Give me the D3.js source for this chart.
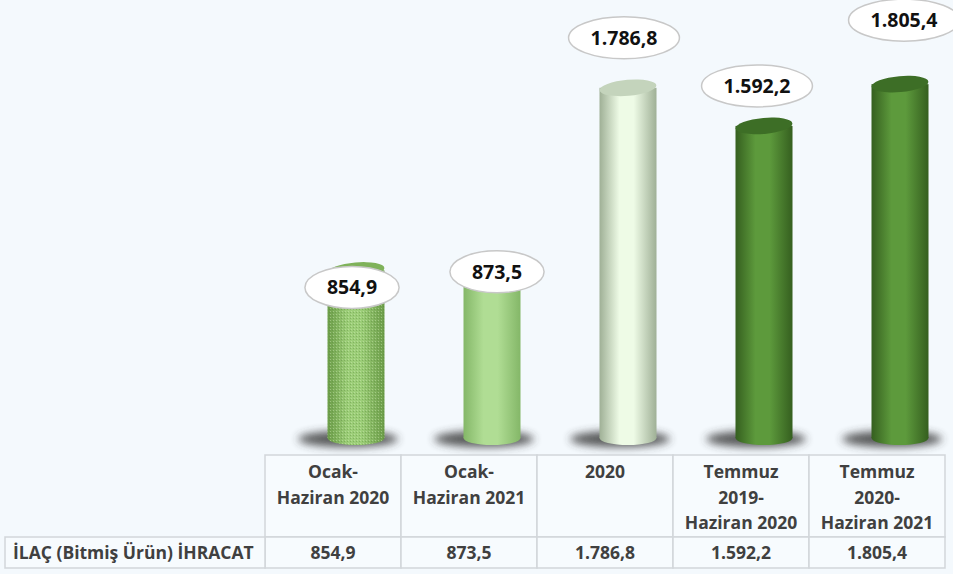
<!DOCTYPE html>
<html>
<head>
<meta charset="utf-8">
<script src="https://cdn.jsdelivr.net/npm/d3@7"></script>
<style>
  html, body { margin: 0; padding: 0; background: #f4f9fd; }
  svg { display: block; }
</style>
</head>
<body>
<svg id="chart" width="953" height="574"></svg>
<script>
// data
var categories = [
  ["Ocak-", "Haziran 2020"],
  ["Ocak-", "Haziran 2021"],
  ["2020"],
  ["Temmuz", "2019-", "Haziran 2020"],
  ["Temmuz", "2020-", "Haziran 2021"]
];
var values = [854.9, 873.5, 1786.8, 1592.2, 1805.4];
var valueLabels = ["854,9", "873,5", "1.786,8", "1.592,2", "1.805,4"];
var rowLabel = "İLAÇ (Bitmiş Ürün) İHRACAT";

// bar styles: edge / center / top colours
var barStyles = [
  { edge: "#6b9c48", mid: "#9cce78", top: "#7fb25a", tex: true },
  { edge: "#84b768", mid: "#b0dd94", top: "#94c878", tex: false },
  { edge: "#9fb096", mid: "#eefbe6", top: "#c4d4bc", tex: false },
  { edge: "#355f1f", mid: "#5d9a3c", top: "#3d6e26", tex: false },
  { edge: "#355f1f", mid: "#5d9a3c", top: "#3d6e26", tex: false }
];
// label bubble offset from bar top (dx, dy)
var labelOffsets = [[-4, 17], [5, 5], [-4, -50], [-7, -40], [4, -64]];

var svg = d3.select("#chart");
var defs = svg.append("defs");

var tableLeft = 265, colW = 136, headTop = 455, headBot = 537, rowBot = 568;
var x = d3.scaleBand()
    .domain(d3.range(values.length))
    .range([tableLeft, tableLeft + colW * values.length])
    .padding(0);
var y = d3.scaleLinear().domain([0, 2000]).range([438, 46]);

var barW = 57, ry = 7, shift = 23;

barStyles.forEach(function (s, i) {
  var g = defs.append("linearGradient").attr("id", "grad" + i)
      .attr("x1", "0%").attr("x2", "100%").attr("y1", "0%").attr("y2", "0%");
  g.append("stop").attr("offset", "0%").attr("stop-color", s.edge);
  g.append("stop").attr("offset", "35%").attr("stop-color", s.mid);
  g.append("stop").attr("offset", "60%").attr("stop-color", s.mid);
  g.append("stop").attr("offset", "100%").attr("stop-color", s.edge);
});

var pat = defs.append("pattern").attr("id", "tex")
    .attr("width", 3).attr("height", 3).attr("patternUnits", "userSpaceOnUse");
pat.append("rect").attr("width", 1).attr("height", 1).attr("fill", "#4f7d33").attr("opacity", 0.35);
pat.append("rect").attr("x", 1).attr("y", 2).attr("width", 1).attr("height", 1).attr("fill", "#d8f0c0").attr("opacity", 0.4);

defs.append("filter").attr("id", "blur").attr("x", "-50%").attr("y", "-100%")
    .attr("width", "200%").attr("height", "300%")
  .append("feGaussianBlur").attr("stdDeviation", 4);

// shadows
svg.append("g").selectAll("ellipse").data(values).enter().append("ellipse")
    .attr("cx", function (d, i) { return x(i) + x.bandwidth() / 2 + shift - 8; })
    .attr("cy", y(0) + 1)
    .attr("rx", 50).attr("ry", 8)
    .attr("fill", "#333").attr("opacity", 0.8)
    .attr("filter", "url(#blur)");

// cylinders
var bars = svg.append("g").selectAll("g").data(values).enter().append("g")
    .attr("transform", function (d, i) {
      return "translate(" + (x(i) + x.bandwidth() / 2 + shift) + ",0)";
    });

bars.append("rect")
    .attr("x", -barW / 2).attr("width", barW)
    .attr("y", function (d) { return y(d); })
    .attr("height", function (d) { return y(0) - y(d); })
    .attr("fill", function (d, i) { return "url(#grad" + i + ")"; });
bars.append("ellipse")
    .attr("cx", 0).attr("cy", y(0)).attr("rx", barW / 2).attr("ry", ry)
    .attr("fill", function (d, i) { return "url(#grad" + i + ")"; });
bars.filter(function (d, i) { return barStyles[i].tex; })
  .append("path")
    .attr("d", function (d) {
      return "M" + (-barW / 2) + "," + y(d) + "V" + y(0) +
        "A" + (barW / 2) + "," + ry + " 0 0 0 " + (barW / 2) + "," + y(0) +
        "V" + y(d) + "Z";
    })
    .attr("fill", "url(#tex)");
bars.append("ellipse")
    .attr("cx", 0).attr("cy", function (d) { return y(d); })
    .attr("rx", barW / 2).attr("ry", ry + 1)
    .attr("transform", function (d) { return "rotate(-5,0," + y(d) + ")"; })
    .attr("fill", function (d, i) { return barStyles[i].top; });

// value bubbles
var bub = svg.append("g").selectAll("g").data(values).enter().append("g")
    .attr("transform", function (d, i) {
      return "translate(" + (x(i) + x.bandwidth() / 2 + shift + labelOffsets[i][0]) + "," +
        (y(d) + labelOffsets[i][1]) + ")";
    });
var bubEll = bub.append("ellipse")
    .attr("ry", 21)
    .attr("fill", "#ffffff").attr("stroke", "#c8c8c8").attr("stroke-width", 1.5);
var bubTxt = bub.append("text")
    .attr("text-anchor", "middle").attr("dy", "0.36em")
    .attr("font-family", "'Open Sans', sans-serif").attr("font-weight", 700)
    .attr("font-size", 19.5).attr("fill", "#111")
    .text(function (d, i) { return valueLabels[i]; });
bubEll.attr("rx", function (d, i) {
  return bubTxt.nodes()[i].getComputedTextLength() / 2 + 22;
});

// table
var table = svg.append("g");
var lineC = "#d2d6da";
values.forEach(function (d, i) {
  table.append("rect")
      .attr("x", x(i)).attr("y", headTop).attr("width", x.bandwidth()).attr("height", headBot - headTop)
      .attr("fill", "#f7fbfe").attr("stroke", lineC).attr("stroke-width", 1.5);
  table.append("rect")
      .attr("x", x(i)).attr("y", headBot).attr("width", x.bandwidth()).attr("height", rowBot - headBot)
      .attr("fill", "#f7fbfe").attr("stroke", lineC).attr("stroke-width", 1.5);
});
table.append("rect")
    .attr("x", 5).attr("y", headBot).attr("width", tableLeft - 5).attr("height", rowBot - headBot)
    .attr("fill", "#f7fbfe").attr("stroke", lineC).attr("stroke-width", 1.5);

var txtFont = "'Open Sans', sans-serif", txtC = "#404040", txtSize = 17.5;
categories.forEach(function (lines, i) {
  table.append("text")
      .attr("x", x(i) + x.bandwidth() / 2).attr("y", 478)
      .attr("text-anchor", "middle")
      .attr("font-family", txtFont).attr("font-weight", 700).attr("font-size", txtSize).attr("fill", txtC)
    .selectAll("tspan").data(lines).enter().append("tspan")
      .attr("x", x(i) + x.bandwidth() / 2)
      .attr("dy", function (l, j) { return j === 0 ? 0 : 25.5; })
      .text(function (l) { return l; });
  table.append("text")
      .attr("x", x(i) + x.bandwidth() / 2).attr("y", 559)
      .attr("text-anchor", "middle")
      .attr("font-family", txtFont).attr("font-weight", 700).attr("font-size", txtSize).attr("fill", txtC)
      .text(valueLabels[i]);
});
table.append("text")
    .attr("x", 13).attr("y", 559)
    .attr("font-family", txtFont).attr("font-weight", 700).attr("font-size", txtSize).attr("fill", txtC)
    .text(rowLabel);
</script>
</body>
</html>
